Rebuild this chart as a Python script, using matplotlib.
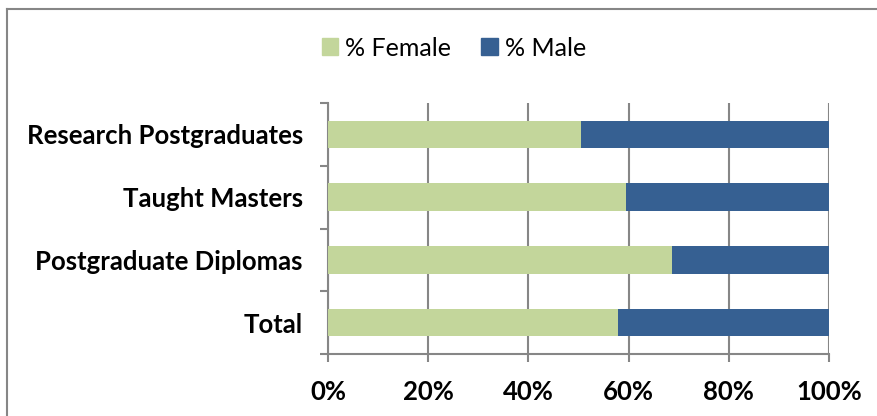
import matplotlib
matplotlib.use("Agg")
import matplotlib.pyplot as plt
from matplotlib.lines import Line2D
from matplotlib.patches import Patch

categories = ["Total", "Postgraduate Diplomas", "Taught Masters", "Research Postgraduates"]
female = [57.8, 68.6, 59.4, 50.4]
male = [100 - f for f in female]
xticks = [0, 20, 40, 60, 80, 100]
xticklabels = ["0%", "20%", "40%", "60%", "80%", "100%"]

green = "#C3D69B"
blue = "#366092"
gray = "#868686"

plt.rcParams['font.family'] = ['Lato', 'DejaVu Sans']

W, H = 878, 416
fig = plt.figure(figsize=(W / 100, H / 100), dpi=100)
ax = fig.add_axes([328 / W, 1 - 354 / H, 501 / W, 251 / H])

y = list(range(len(categories)))
ax.barh(y, female, height=0.44, color=green, zorder=3)
ax.barh(y, male, left=female, height=0.44, color=blue, zorder=3)

ax.set_xlim(0, 100)
ax.set_ylim(-0.5, len(categories) - 0.5)
ax.set_xticks(xticks)
ax.set_xticklabels(xticklabels, fontsize=18.5, fontweight='bold')
ax.set_yticks(y)
ax.set_yticklabels(categories, fontsize=18.5, fontweight='bold')
ax.tick_params(axis='y', length=0, pad=18)
ax.tick_params(axis='x', length=6, color=gray, width=1.5, pad=13)

# category separators ticks on y axis
ax.set_yticks([i - 0.5 for i in range(len(categories) + 1)], minor=True)
ax.tick_params(axis='y', which='minor', length=5.5, color=gray, width=1.5)

ax.grid(axis='x', color=gray, linewidth=1.5, zorder=0)
for s in ['top', 'right']:
    ax.spines[s].set_visible(False)
for s in ['left', 'bottom']:
    ax.spines[s].set_color(gray)
    ax.spines[s].set_linewidth(1.5)

handles = [Patch(color=green, label="% Female"), Patch(color=blue, label="% Male")]
fig.legend(handles=handles, loc='center', bbox_to_anchor=(454 / W, 1 - 48 / H),
           ncol=2, frameon=False, fontsize=18, handlelength=0.65, handleheight=0.65,
           handletextpad=0.3, columnspacing=1.2)

# outer chart border (top and left visible)
fig.add_artist(Line2D([7 / W, 1.0], [1 - 9 / H, 1 - 9 / H], transform=fig.transFigure, color=gray, linewidth=1.5))
fig.add_artist(Line2D([7 / W, 7 / W], [0, 1 - 9 / H], transform=fig.transFigure, color=gray, linewidth=1.5))

fig.savefig("out.png", dpi=100)
